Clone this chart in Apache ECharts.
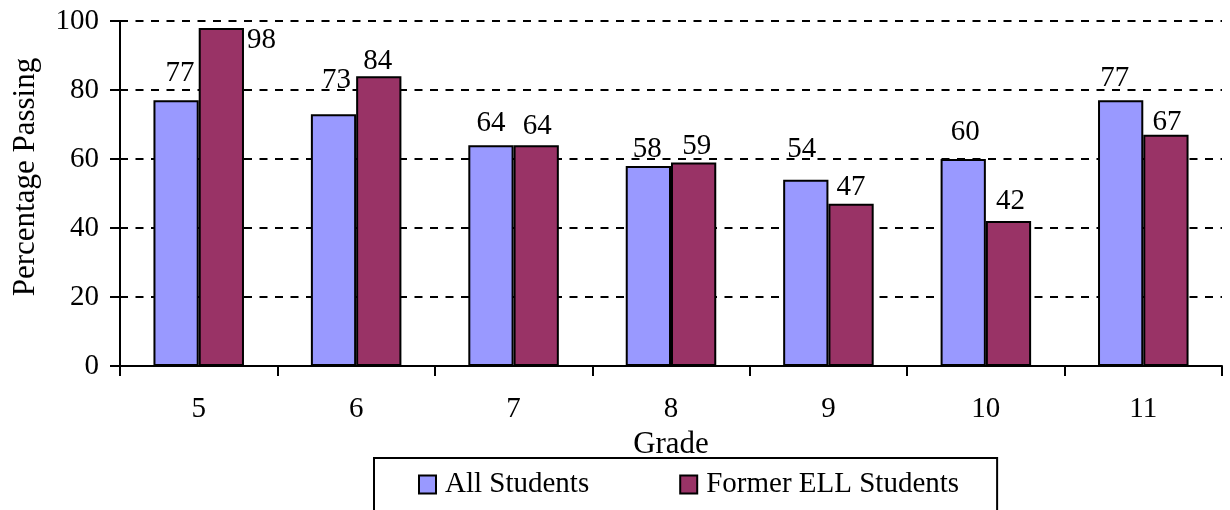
<!DOCTYPE html>
<html>
<head>
<meta charset="utf-8">
<script src="https://cdn.jsdelivr.net/npm/echarts@6/dist/echarts.min.js"></script>
<style>
  html, body { margin: 0; padding: 0; background: #fff; }
  #chart { width: 1230px; height: 510px; }
</style>
</head>
<body>
<div id="chart"></div>
<script>
// Grades on the category axis
const grades = ['5', '6', '7', '8', '9', '10', '11'];
// Percentage passing per grade
const allStudents = [77, 73, 64, 58, 54, 60, 77];
const formerEllStudents = [98, 84, 64, 59, 47, 42, 67];
const seriesNames = ['All Students', 'Former ELL Students'];
const yTicks = { min: 0, max: 100, step: 20 };

// Hand-placed value label nudges [dx, dy] in px, one per bar
const allLabelNudge = [[4, -10], [3, -17], [0, -5], [-1, 0], [-4, -14], [2, -10], [-6, -5]];
const ellLabelNudge = [[3, -2], [-1, 2], [1, -2], [3, 0], [0, 0], [2, -3], [1, 4]];

const FONT = '"Liberation Serif", "Times New Roman", serif';
const BLUE = '#9999FF';
const MAROON = '#993366';

function barData(values, nudges, rightOfBarIndex) {
  return values.map((v, i) => {
    const item = { value: v, label: { offset: nudges[i] } };
    if (i === rightOfBarIndex) {
      // tall bar: value sits beside the bar's top edge
      item.label.position = ['100%', 0];
      item.label.align = 'left';
      item.label.verticalAlign = 'top';
    }
    return item;
  });
}

const labelStyle = {
  show: true,
  position: 'top',
  distance: 2,
  color: '#000',
  fontFamily: FONT,
  fontSize: 29
};

const chart = echarts.init(document.getElementById('chart'));
chart.setOption({
  animation: false,
  backgroundColor: '#fff',
  textStyle: { fontFamily: FONT, color: '#000' },
  grid: { left: 120, right: 8, top: 21, bottom: 144 },
  xAxis: {
    type: 'category',
    data: grades,
    boundaryGap: true,
    name: 'Grade',
    nameLocation: 'middle',
    nameGap: 56,
    nameTextStyle: { fontFamily: FONT, fontSize: 31, color: '#000' },
    axisLine: { lineStyle: { color: '#000', width: 2 } },
    axisTick: { show: true, length: 10, alignWithLabel: false, lineStyle: { color: '#000', width: 2 } },
    axisLabel: { margin: 29, fontFamily: FONT, fontSize: 29, color: '#000' },
    splitLine: { show: false }
  },
  yAxis: {
    type: 'value',
    min: yTicks.min,
    max: yTicks.max,
    interval: yTicks.step,
    axisLine: { show: true, lineStyle: { color: '#000', width: 2 } },
    axisTick: { show: true, length: 10, lineStyle: { color: '#000', width: 2 } },
    axisLabel: { margin: 21, fontFamily: FONT, fontSize: 29, color: '#000' },
    splitLine: { show: true, lineStyle: { color: '#000', width: 2, type: [8, 7.5] } }
  },
  legend: {
    left: 374,
    top: 458,
    orient: 'horizontal',
    padding: [12, 38, 30, 44],
    itemGap: 90,
    itemWidth: 17,
    itemHeight: 18,
    icon: 'rect',
    borderColor: '#000',
    borderWidth: 2,
    textStyle: { fontFamily: FONT, fontSize: 29, color: '#000', padding: [0, 0, 0, 4] },
    data: seriesNames
  },
  graphic: [{
    type: 'text',
    x: 26,
    y: 177,
    rotation: Math.PI / 2,
    style: {
      text: 'Percentage Passing',
      font: '31px ' + FONT,
      fill: '#000',
      align: 'center',
      verticalAlign: 'middle'
    }
  }],
  series: [
    {
      name: seriesNames[0],
      type: 'bar',
      data: barData(allStudents, allLabelNudge, -1),
      barGap: '0%',
      barCategoryGap: '42.5%',
      itemStyle: { color: BLUE, borderColor: '#000', borderWidth: 2 },
      label: labelStyle
    },
    {
      name: seriesNames[1],
      type: 'bar',
      data: barData(formerEllStudents, ellLabelNudge, 0),
      barGap: '0%',
      barCategoryGap: '42.5%',
      itemStyle: { color: MAROON, borderColor: '#000', borderWidth: 2 },
      label: labelStyle
    }
  ]
});
</script>
</body>
</html>
